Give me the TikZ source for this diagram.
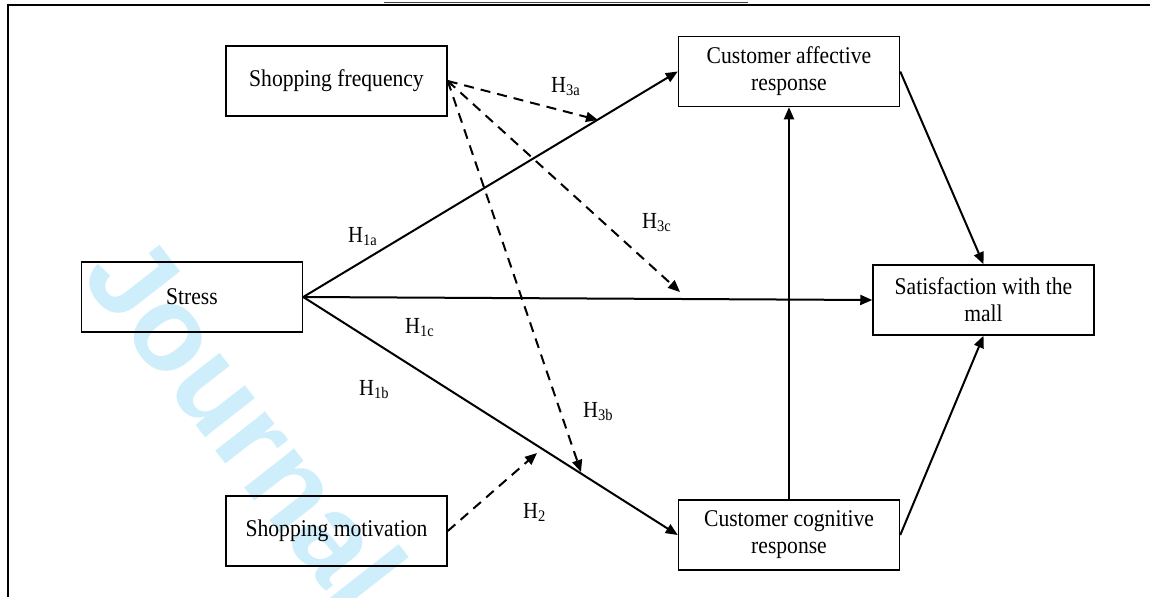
\documentclass[tikz,border=0pt]{standalone}
\usepackage{fontspec}
\setmainfont{Liberation Serif}[FakeStretch=0.9]
\newfontfamily\wmfont{Liberation Sans}
\usetikzlibrary{arrows.meta}

\definecolor{wmcyan}{RGB}{206,238,251}

\tikzset{
  box/.style={draw, line width=1.5pt, minimum width=221pt, minimum height=70pt,
    align=center, inner sep=0pt, font=\fontsize{24}{27}\selectfont},
  hlabel/.style={anchor=base west, inner sep=0pt, font=\fontsize{23}{27}\selectfont},
  link/.style={line width=2pt, -{Triangle[length=12pt,width=10pt]}},
  modlink/.style={link, dash pattern=on 10pt off 7pt}
}

\begin{document}
\begin{tikzpicture}[x=1pt,y=-1pt]
  \useasboundingbox (0,0) rectangle (1150,597);
  % watermark
  \begin{scope}
    \clip (0,0) rectangle (1150,597);
    \node[rotate=-52, anchor=base west, inner sep=0pt, text=wmcyan,
      font=\fontsize{120}{120}\selectfont\wmfont\bfseries] (wm) at (79,276) {Journal Pre-proof};
  \end{scope}
  % frame
  \draw [line width=1.5pt, black!75] (384,2.5) -- (748,2.5);
  \draw [line width=2pt] (1150,5) -- (7.5,5) -- (7.5,597);

  % boxes
  \node[box] (freq)   at (336.5,81)  {Shopping frequency};
  \node[box] (affect) at (789,71.5)  {Customer affective\\response};
  \node[box] (stress) at (192,297)   {Stress};
  \node[box] (satis)  at (983.5,300) {Satisfaction with the\\mall};
  \node[box] (motiv)  at (336.5,531) {Shopping motivation};
  \node[box] (cognit) at (789,535)   {Customer cognitive\\response};

  % ends of the moderating arrows
  \coordinate (m3a) at (598,120);
  \coordinate (m3c) at (680,292);
  \coordinate (m3b) at (581,472);
  \coordinate (m2)  at (537,453);

  % direct paths
  \draw [link] (stress.east) -- (affect.west);
  \draw [link] (stress.east) -- (satis.west);
  \draw [link] (stress.east) -- (cognit.west);
  \draw [link] (cognit.north) -- (affect.south);
  \draw [link] (affect.east) -- (satis.north);
  \draw [link] (cognit.east) -- (satis.south);

  % moderation
  \draw [modlink] (freq.east) -- (m3a);
  \draw [modlink] (freq.east) -- (m3c);
  \draw [modlink] (freq.east) -- (m3b);
  \draw [modlink] (motiv.east) -- (m2);

  % hypotheses
  \node[hlabel] (h3a) at (551,92)  {H\textsubscript{3a}};
  \node[hlabel] (h1a) at (348,242) {H\textsubscript{1a}};
  \node[hlabel] (h1c) at (405,333) {H\textsubscript{1c}};
  \node[hlabel] (h1b) at (359,395) {H\textsubscript{1b}};
  \node[hlabel] (h3c) at (642,228) {H\textsubscript{3c}};
  \node[hlabel] (h3b) at (583,417) {H\textsubscript{3b}};
  \node[hlabel] (h2)  at (523,518) {H\textsubscript{2}};
\end{tikzpicture}
\end{document}
